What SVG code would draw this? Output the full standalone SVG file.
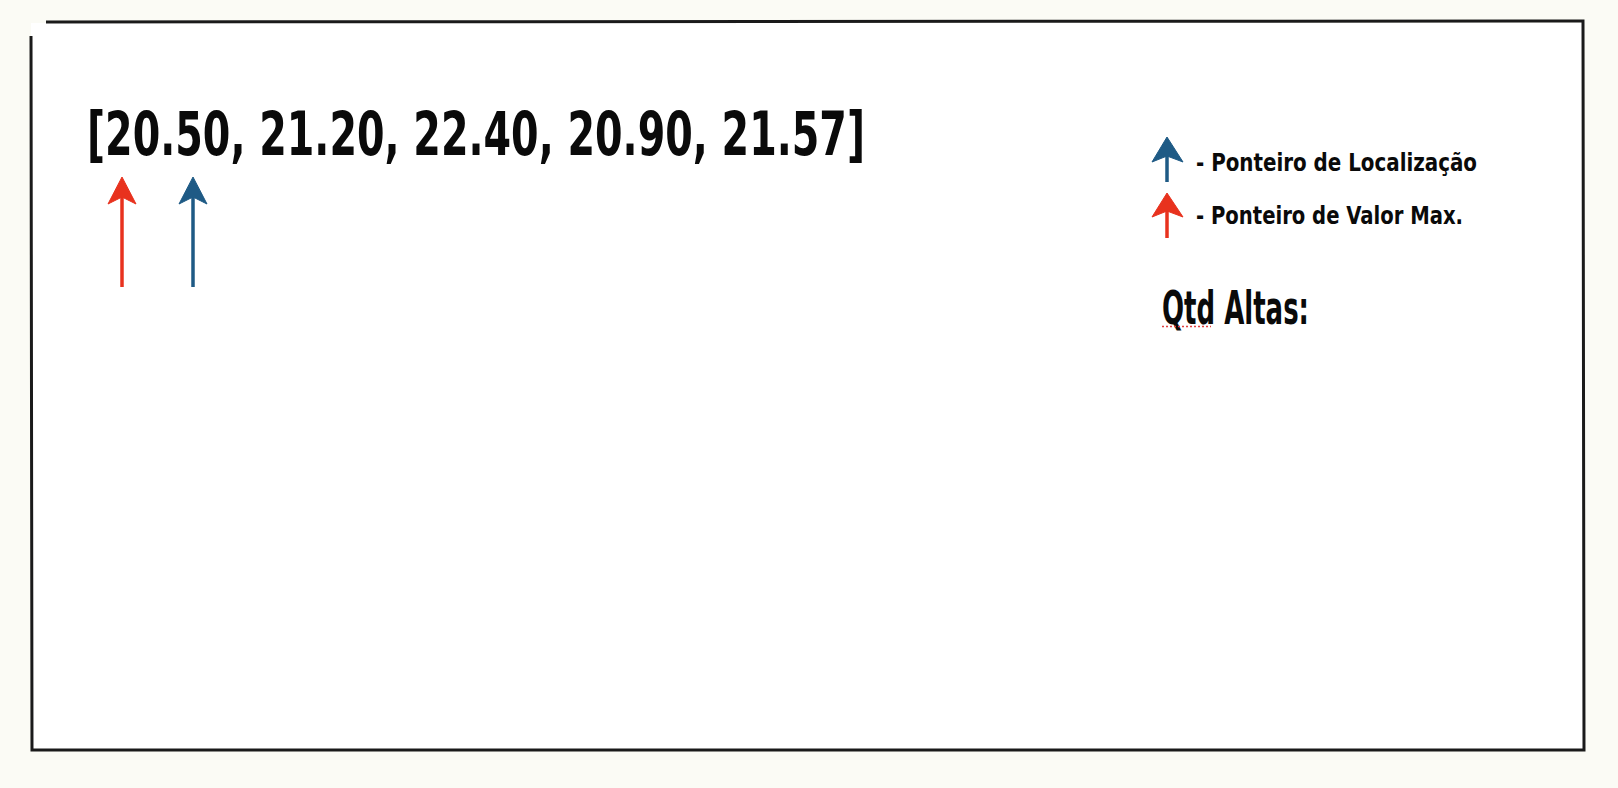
<svg xmlns="http://www.w3.org/2000/svg" width="1618" height="788" viewBox="0 0 1618 788">
<style>
.t{font-family:"DejaVu Sans","Liberation Sans",sans-serif;font-weight:bold;fill:#0a0a0a;font-stretch:condensed}
.red{stroke:#e8321e;fill:#e8321e}
.blue{stroke:#1e5a85;fill:#1e5a85}
</style>
<rect x="0" y="0" width="1618" height="788" fill="#fbfbf5"/>
<g id="frame">
<rect x="31" y="23" width="1552" height="727" fill="#ffffff" stroke="none"/>
<path d="M46 22 L1583 21 L1584 750 L32 750 L31 36" fill="none" stroke="#1a1a1a" stroke-width="3"/>
</g>
<g id="array">
<text class="t" x="87" y="155" font-size="60" textLength="778" lengthAdjust="spacingAndGlyphs">[20.50, 21.20, 22.40, 20.90, 21.57]</text>
</g>
<g id="connectors">
<g id="max-pointer" class="red">
<line x1="122" y1="287" x2="122" y2="186" stroke-width="3.5"/>
<polygon points="122,177 136,204 122,197 108,204" stroke-width="1"/>
</g>
<g id="loc-pointer" class="blue">
<line x1="193" y1="287" x2="193" y2="186" stroke-width="3.5"/>
<polygon points="193,177 207,204 193,197 179,204" stroke-width="1"/>
</g>
</g>
<g id="legend">
<g class="blue">
<line x1="1167" y1="182" x2="1167" y2="145" stroke-width="3.5"/>
<polygon points="1167,137 1183,162 1167,156 1152,162" stroke-width="1"/>
</g>
<text class="t" x="1196" y="171" font-size="25" textLength="281" lengthAdjust="spacingAndGlyphs">- Ponteiro de Localização</text>
<g class="red">
<line x1="1167" y1="238" x2="1167" y2="200" stroke-width="3.5"/>
<polygon points="1167,193 1183,217 1167,211 1152,217" stroke-width="1"/>
</g>
<text class="t" x="1196" y="224" font-size="25" textLength="267" lengthAdjust="spacingAndGlyphs">- Ponteiro de Valor Max.</text>
</g>
<g id="qtd">
<text class="t" x="1162" y="324" font-size="46" textLength="147" lengthAdjust="spacingAndGlyphs">Qtd Altas:</text>
<line x1="1162" y1="326.5" x2="1211" y2="326.5" stroke="#e04040" stroke-width="1.5" stroke-dasharray="2 2"/>
</g>
</svg>
